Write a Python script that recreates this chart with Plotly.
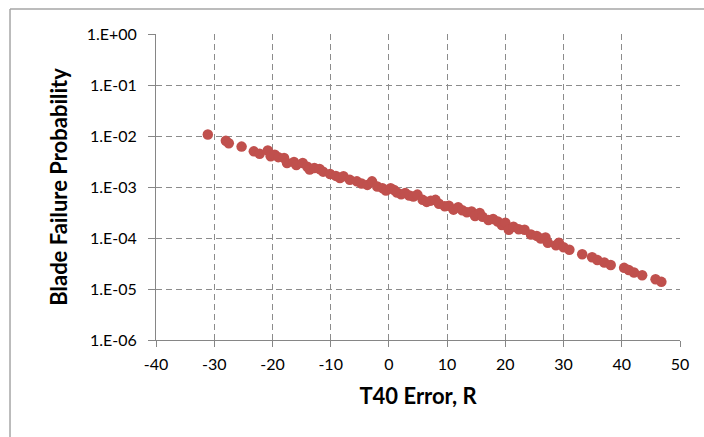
import plotly.graph_objects as go

# T40 error (R) and corresponding blade failure probability
t40_error = [
    -31.1, -28.0, -27.5, -25.3, -23.2, -22.2, -20.8, -20.3, -19.6, -19.0,
    -18.0, -17.5, -16.3, -15.9, -14.8, -14.0, -13.6, -12.8, -11.9, -11.3,
    -10.1, -9.1, -8.4, -7.8, -6.7, -5.5, -4.7, -3.7, -2.9, -2.0,
    -1.1, -0.5, 0.3, 0.9, 1.4, 2.1, 2.8, 3.5, 4.2, 4.9,
    5.8, 6.5, 7.2, 8.0, 8.6, 9.6, 10.3, 11.1, 11.9, 12.6,
    13.4, 14.2, 14.8, 15.6, 16.1, 17.1, 17.9, 18.7, 19.4, 20.0,
    20.6, 21.4, 22.3, 23.3, 24.4, 25.4, 26.1, 26.9, 27.3, 28.7,
    29.2, 30.0, 31.0, 33.2, 34.9, 35.8, 37.0, 38.1, 40.4, 41.2,
    42.1, 43.5, 45.8, 46.8,
]
failure_prob = [
    1.07e-2, 8.05e-3, 7.2e-3, 6.2e-3, 5.0e-3, 4.5e-3, 5.2e-3, 4.0e-3, 4.3e-3, 3.85e-3,
    3.7e-3, 2.95e-3, 3.1e-3, 2.7e-3, 2.95e-3, 2.5e-3, 2.2e-3, 2.35e-3, 2.25e-3, 2.0e-3,
    1.8e-3, 1.65e-3, 1.5e-3, 1.62e-3, 1.38e-3, 1.29e-3, 1.17e-3, 1.1e-3, 1.29e-3, 1.02e-3,
    9.5e-4, 8.5e-4, 9.5e-4, 8.7e-4, 7.8e-4, 7.2e-4, 7.6e-4, 6.8e-4, 6.5e-4, 7.1e-4,
    5.6e-4, 5.1e-4, 5.4e-4, 5.6e-4, 4.7e-4, 4.2e-4, 4.3e-4, 3.6e-4, 4.0e-4, 3.5e-4,
    3.2e-4, 3.3e-4, 2.7e-4, 3.1e-4, 2.6e-4, 2.25e-4, 2.35e-4, 2.1e-4, 1.8e-4, 2.0e-4,
    1.45e-4, 1.66e-4, 1.48e-4, 1.45e-4, 1.17e-4, 1.1e-4, 9.8e-5, 1.02e-4, 8.1e-5, 7.2e-5,
    8.1e-5, 6.6e-5, 5.9e-5, 4.8e-5, 4.2e-5, 3.7e-5, 3.3e-5, 2.95e-5, 2.6e-5, 2.35e-5,
    2.1e-5, 1.86e-5, 1.55e-5, 1.38e-5,
]

x_ticks = [-40, -30, -20, -10, 0, 10, 20, 30, 40, 50]
y_tickvals = [1e0, 1e-1, 1e-2, 1e-3, 1e-4, 1e-5, 1e-6]
y_ticktext = ["1.E+00", "1.E-01", "1.E-02", "1.E-03", "1.E-04", "1.E-05", "1.E-06"]

axis_gray = "#868686"
grid_gray = "#8c8c8c"

fig = go.Figure(
    go.Scatter(
        x=t40_error,
        y=failure_prob,
        mode="markers",
        marker=dict(color="#C0504D", size=10.5, line=dict(width=0)),
        showlegend=False,
    )
)

fig.update_layout(
    width=704,
    height=437,
    margin=dict(l=156, r=24, t=34, b=97),
    paper_bgcolor="white",
    plot_bgcolor="white",
    font=dict(family="Lato", color="#000000"),
    xaxis=dict(
        range=[-40, 50],
        tickvals=x_ticks,
        ticktext=[str(v) for v in x_ticks],
        showgrid=True,
        gridcolor=grid_gray,
        gridwidth=1,
        griddash="6px,4px",
        zeroline=False,
        showline=True,
        linecolor=axis_gray,
        linewidth=1,
        ticks="outside",
        ticklen=6,
        tickcolor=axis_gray,
        ticklabelstandoff=4,
        tickfont=dict(size=16),
        title=dict(text="<b>T40 Error, R</b>", font=dict(size=22), standoff=16),
    ),
    yaxis=dict(
        type="log",
        range=[-6, 0],
        tickvals=y_tickvals,
        ticktext=y_ticktext,
        showgrid=True,
        gridcolor=grid_gray,
        gridwidth=1,
        griddash="6px,4px",
        zeroline=False,
        showline=True,
        linecolor=axis_gray,
        linewidth=1,
        ticks="outside",
        ticklen=7,
        tickcolor=axis_gray,
        ticklabelstandoff=8,
        tickfont=dict(size=16),
        title=dict(text="<b>Blade Failure Probability</b>", font=dict(size=22), standoff=12),
    ),
    shapes=[
        # chart-area frame (left and top edges)
        dict(type="line", xref="paper", yref="paper",
             x0=-0.2786, x1=-0.2786, y0=1.0817, y1=-0.35,
             line=dict(color="#a6a6a6", width=1.5)),
        dict(type="line", xref="paper", yref="paper",
             x0=-0.2786, x1=1.06, y0=1.0817, y1=1.0817,
             line=dict(color="#a6a6a6", width=1.5)),
    ],
)

fig.write_html("out.html")
